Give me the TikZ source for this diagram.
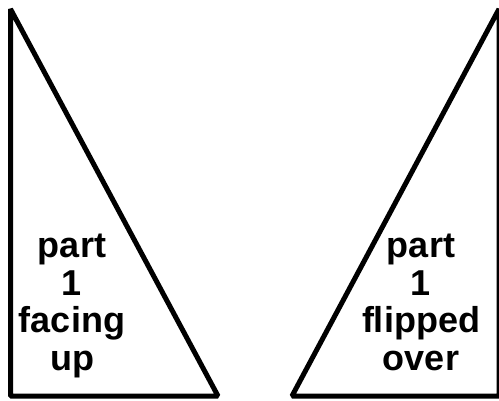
\documentclass[tikz,border=0pt]{standalone}
\usepackage{fontspec}
\setmainfont{Liberation Sans}
\begin{document}
\begin{tikzpicture}[x=1pt,y=-1pt,
  tri/.style={draw=black,line width=5pt,line join=bevel},
  lbl/.style={font=\bfseries\fontsize{36}{37.5}\selectfont,align=center,inner sep=0pt,anchor=north}]
\useasboundingbox (0,0) rectangle (499,400);
\coordinate (la) at (10.5,9);
\coordinate (lb) at (10.5,396);
\coordinate (lc) at (218,396);
\coordinate (ra) at (499,9);
\coordinate (rb) at (499,396);
\coordinate (rc) at (292,396);
\draw[tri] (la) -- (lb) -- (lc) -- cycle;
\draw[tri] (ra) -- (rb) -- (rc) -- cycle;
\node[lbl] (t1) at (72,234) {part\\1\\facing\\up};
\node[lbl] (t2) at (421,234) {part\\1\\flipped\\over};
\end{tikzpicture}
\end{document}
